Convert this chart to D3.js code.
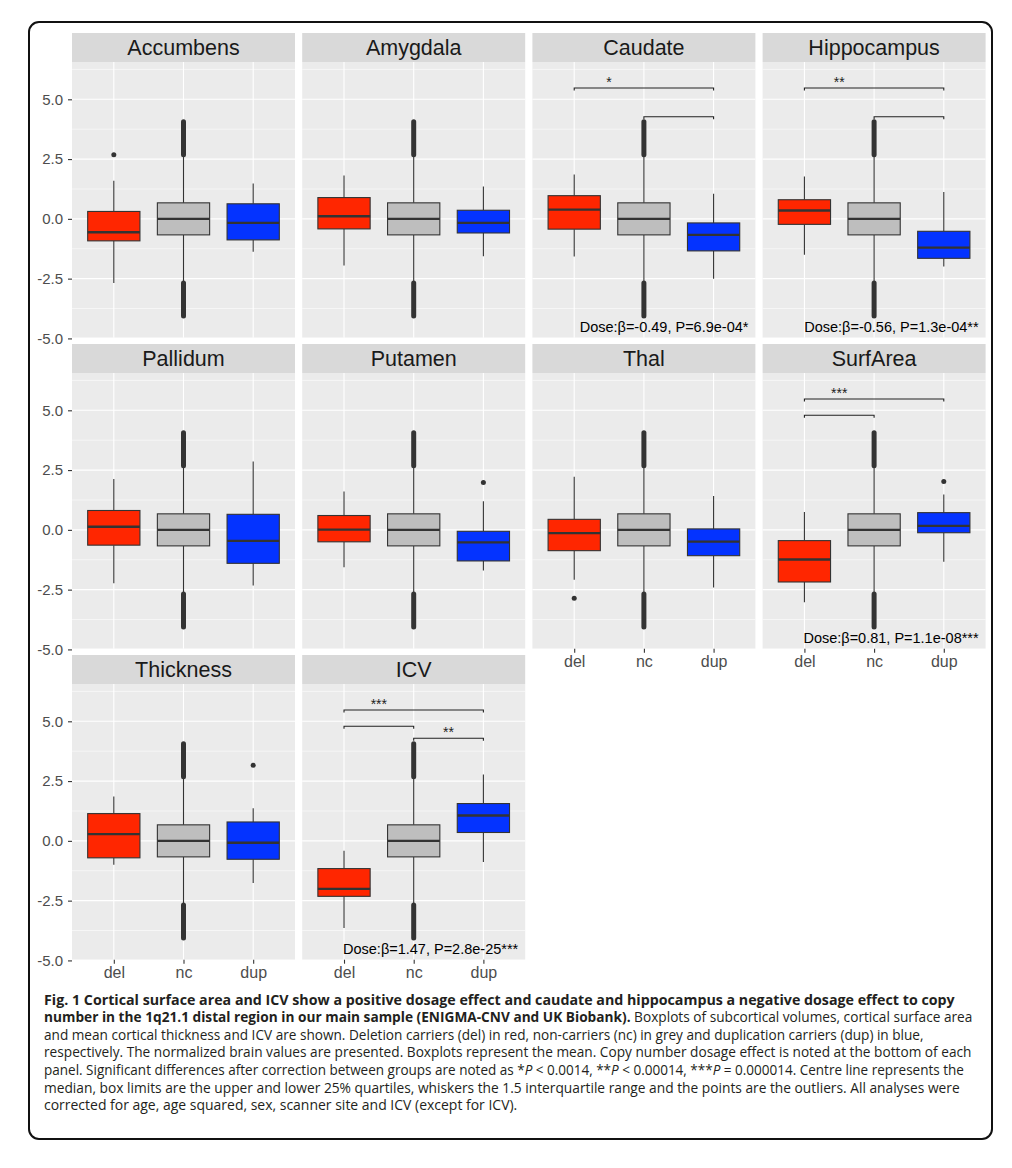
<!DOCTYPE html>
<html>
<head>
<meta charset="utf-8">
<script src="https://cdn.jsdelivr.net/npm/d3@7"></script>
<style>
  body { margin: 0; background: #fff; }
  svg { display: block; }
</style>
</head>
<body>
<svg id="chart"></svg>
<script>
// groups and panels
const groups = ["del", "nc", "dup"];
const regions = ["Accumbens", "Amygdala", "Caudate", "Hippocampus", "Pallidum",
                 "Putamen", "Thal", "SurfArea", "Thickness", "ICV"];

// [lower whisker, q1, median, q3, upper whisker], one row per region
const delStats = [
    [-2.68, -0.92, -0.56, 0.31, 1.59],
    [-1.95, -0.42, 0.11, 0.89, 1.81],
    [-1.57, -0.43, 0.39, 0.97, 1.85],
    [-1.50, -0.23, 0.35, 0.80, 1.77],
    [-2.23, -0.64, 0.13, 0.81, 2.13],
    [-1.56, -0.50, 0.01, 0.60, 1.60],
    [-2.09, -0.87, -0.14, 0.44, 2.22],
    [-3.03, -2.18, -1.24, -0.45, 0.75],
    [-1.00, -0.71, 0.28, 1.14, 1.85],
    [-3.64, -2.32, -2.01, -1.16, -0.41]
];
const ncStats = [-2.68, -0.67, 0.00, 0.67, 2.68];
const dupStats = [
    [-1.38, -0.88, -0.17, 0.63, 1.48],
    [-1.56, -0.59, -0.17, 0.36, 1.35],
    [-2.50, -1.34, -0.67, -0.17, 1.05],
    [-1.99, -1.65, -1.20, -0.52, 1.12],
    [-2.33, -1.40, -0.46, 0.65, 2.86],
    [-1.70, -1.30, -0.52, -0.06, 1.20],
    [-2.41, -1.08, -0.49, 0.04, 1.42],
    [-1.33, -0.12, 0.17, 0.72, 1.48],
    [-1.76, -0.77, -0.08, 0.79, 1.36],
    [-0.88, 0.35, 1.06, 1.56, 2.77]
];

// outliers
const delOutliers = [[2.68], [], [], [], [], [], [-2.86], [], [], []];
const dupOutliers = [[], [], [], [], [], [1.98], [], [2.02], [3.16], []];
// the non-carrier outliers are so dense they form solid runs
const ncOutlierRuns = [[2.68, 4.06], [-4.06, -2.68]];

const doseLabels = ["", "", "Dose:\u03b2=-0.49, P=6.9e-04*", "Dose:\u03b2=-0.56, P=1.3e-04**",
                    "", "", "", "Dose:\u03b2=0.81, P=1.1e-08***", "", "Dose:\u03b2=1.47, P=2.8e-25***"];

// significance brackets: region, from, to, height, label, label position (group index)
const brackets = [
    ["Caudate", "del", "dup", 5.47, "*", 1.5],
    ["Caudate", "nc", "dup", 4.27, "", 2.5],
    ["Hippocampus", "del", "dup", 5.47, "**", 1.5],
    ["Hippocampus", "nc", "dup", 4.27, "", 2.5],
    ["SurfArea", "del", "dup", 5.47, "***", 1.5],
    ["SurfArea", "del", "nc", 4.79, "", 1.5],
    ["ICV", "del", "dup", 5.47, "***", 1.5],
    ["ICV", "del", "nc", 4.79, "", 1.5],
    ["ICV", "nc", "dup", 4.29, "**", 2.5]
];

const yTicks = [-5, -2.5, 0, 2.5, 5];
const yMinor = [-3.75, -1.25, 1.25, 3.75, 6.25];

const fills = { del: "#ff2600", nc: "#bebebe", dup: "#0433ff" };

const width = 1012, height = 1168;
const left0 = 72, panelW = 223, gapX = 7.2;
const top0 = 33, stripH = 29, plotH = 275.7, rowStep = 311;
const chartFont = "'Liberation Sans', Arial, sans-serif";

let svg = d3.select("#chart").attr("width", width).attr("height", height);
svg.append("rect").attr("width", width).attr("height", height).attr("fill", "#fff");

// frame
svg.append("rect")
    .attr("x", 29).attr("y", 22)
    .attr("width", 963).attr("height", 1117)
    .attr("rx", 10).attr("ry", 10)
    .attr("fill", "none").attr("stroke", "#111").attr("stroke-width", 2);

let x = d3.scaleLinear().domain([0.4, 3.6]).range([0, panelW]);
let y = d3.scaleLinear().domain([-4.97, 6.56]).range([plotH, 0]);
let gx = function(g) { return x(groups.indexOf(g) + 1); };
let boxW = x(0.75) - x(0);

regions.forEach(function(region, i) {
    let col = i % 4, row = Math.floor(i / 4);
    let px = left0 + col * (panelW + gapX);
    let py = top0 + row * rowStep;

    let strip = svg.append("g").attr("transform", "translate(" + px + "," + py + ")");
    strip.append("rect").attr("width", panelW).attr("height", stripH).attr("fill", "#d9d9d9");
    strip.append("text")
        .attr("x", panelW / 2).attr("y", stripH / 2 + 7.5)
        .attr("text-anchor", "middle")
        .style("font-family", chartFont)
        .style("font-size", "21.5px")
        .attr("fill", "#1a1a1a")
        .text(region);

    let g = svg.append("g").attr("transform", "translate(" + px + "," + (py + stripH) + ")");
    g.append("rect").attr("width", panelW).attr("height", plotH).attr("fill", "#ebebeb");

    g.selectAll(".minor").data(yMinor).enter().append("line")
        .attr("x1", 0).attr("x2", panelW)
        .attr("y1", function(d) { return y(d); }).attr("y2", function(d) { return y(d); })
        .attr("stroke", "#fff").attr("stroke-width", 0.55);
    g.selectAll(".major").data(yTicks).enter().append("line")
        .attr("x1", 0).attr("x2", panelW)
        .attr("y1", function(d) { return y(d); }).attr("y2", function(d) { return y(d); })
        .attr("stroke", "#fff").attr("stroke-width", 1.1);
    g.selectAll(".vgrid").data(groups).enter().append("line")
        .attr("x1", gx).attr("x2", gx)
        .attr("y1", 0).attr("y2", plotH)
        .attr("stroke", "#fff").attr("stroke-width", 1.1);

    let stats = { del: delStats[i], nc: ncStats, dup: dupStats[i] };

    groups.forEach(function(grp) {
        let s = stats[grp];
        let cx = gx(grp);
        // whiskers
        g.append("line").attr("x1", cx).attr("x2", cx)
            .attr("y1", y(s[3])).attr("y2", y(s[4]))
            .attr("stroke", "#333").attr("stroke-width", 1.1);
        g.append("line").attr("x1", cx).attr("x2", cx)
            .attr("y1", y(s[1])).attr("y2", y(s[0]))
            .attr("stroke", "#333").attr("stroke-width", 1.1);
        g.append("rect")
            .attr("x", cx - boxW / 2).attr("y", y(s[3]))
            .attr("width", boxW).attr("height", y(s[1]) - y(s[3]))
            .attr("fill", fills[grp]).attr("stroke", "#333").attr("stroke-width", 1.1);
        g.append("line")
            .attr("x1", cx - boxW / 2).attr("x2", cx + boxW / 2)
            .attr("y1", y(s[2])).attr("y2", y(s[2]))
            .attr("stroke", "#333").attr("stroke-width", 2.3);
    });

    // outliers
    g.selectAll(".runs").data(ncOutlierRuns).enter().append("line")
        .attr("x1", gx("nc")).attr("x2", gx("nc"))
        .attr("y1", function(d) { return y(d[0]); }).attr("y2", function(d) { return y(d[1]); })
        .attr("stroke", "#333").attr("stroke-width", 5).attr("stroke-linecap", "round");
    g.selectAll(".odel").data(delOutliers[i]).enter().append("circle")
        .attr("cx", gx("del")).attr("cy", function(d) { return y(d); })
        .attr("r", 2.5).attr("fill", "#333");
    g.selectAll(".odup").data(dupOutliers[i]).enter().append("circle")
        .attr("cx", gx("dup")).attr("cy", function(d) { return y(d); })
        .attr("r", 2.5).attr("fill", "#333");

    // significance brackets
    brackets.filter(function(b) { return b[0] === region; }).forEach(function(b) {
        let x1 = gx(b[1]), x2 = gx(b[2]);
        g.append("path")
            .attr("d", "M" + x1 + "," + y(b[3] - 0.1) + "V" + y(b[3]) + "H" + x2 + "V" + y(b[3] - 0.1))
            .attr("fill", "none").attr("stroke", "#222").attr("stroke-width", 1.1);
        if (b[4] !== "") {
            g.append("text")
                .attr("x", x(b[5])).attr("y", y(b[3]) - 1.5)
                .attr("text-anchor", "middle")
                .style("font-family", chartFont)
                .style("font-size", "14px")
                .attr("fill", "#222")
                .text(b[4]);
        }
    });

    if (doseLabels[i] !== "") {
        g.append("text")
            .attr("x", x(3.5)).attr("y", y(-4.5))
            .attr("dy", "0.35em")
            .attr("text-anchor", "end")
            .style("font-family", chartFont)
            .style("font-size", "14.5px")
            .attr("fill", "#000")
            .text(doseLabels[i]);
    }

    if (col === 0) {
        let ya = g.append("g")
            .call(d3.axisLeft(y).tickValues(yTicks)
                .tickFormat(function(d) { return d.toFixed(1); })
                .tickSize(4).tickPadding(5));
        ya.select(".domain").remove();
        ya.selectAll("line").attr("stroke", "#333").attr("stroke-width", 1.1);
        ya.selectAll("text")
            .style("font-family", chartFont)
            .style("font-size", "15px")
            .attr("fill", "#4d4d4d");
    }

    if (row === 2 || (row === 1 && col >= 2)) {
        let xa = g.append("g")
            .attr("transform", "translate(0," + plotH + ")")
            .call(d3.axisBottom(x).tickValues([1, 2, 3]).tickFormat(function(d) { return groups[d - 1]; })
                .tickSize(4).tickPadding(3));
        xa.select(".domain").remove();
        xa.selectAll("line").attr("stroke", "#333").attr("stroke-width", 1.1);
        xa.selectAll("text")
            .style("font-family", chartFont)
            .style("font-size", "16px")
            .attr("fill", "#4d4d4d");
    }
});

// caption
const captionLines = [
    [["Fig. 1 Cortical surface area and ICV show a positive dosage effect and caudate and hippocampus a negative dosage effect to copy", "b"]],
    [["number in the 1q21.1 distal region in our main sample (ENIGMA-CNV and UK Biobank).", "b"],
     [" Boxplots of subcortical volumes, cortical surface area", "r"]],
    [["and mean cortical thickness and ICV are shown. Deletion carriers (del) in red, non-carriers (nc) in grey and duplication carriers (dup) in blue,", "r"]],
    [["respectively. The normalized brain values are presented. Boxplots represent the mean. Copy number dosage effect is noted at the bottom of each", "r"]],
    [["panel. Significant differences after correction between groups are noted as *", "r"], ["P", "i"], [" < 0.0014, **", "r"],
     ["P", "i"], [" < 0.00014, ***", "r"], ["P", "i"], [" = 0.000014. Centre line represents the", "r"]],
    [["median, box limits are the upper and lower 25% quartiles, whiskers the 1.5 interquartile range and the points are the outliers. All analyses were", "r"]],
    [["corrected for age, age squared, sex, scanner site and ICV (except for ICV).", "r"]]
];
// measured line widths in the reference, from x = 44
const captionWidths = [911, 929, 880, 928, 920, 917, 474];

let cap = svg.append("g").attr("fill", "#231f20")
    .style("font-family", "'Open Sans', 'Noto Sans', sans-serif");

captionLines.forEach(function(line, k) {
    let row = cap.append("g");
    let t = row.append("text")
        .attr("x", 0).attr("y", 0)
        .style("font-size", "14.3px");
    line.forEach(function(seg) {
        t.append("tspan")
            .style("font-weight", seg[1] === "b" ? "bold" : "normal")
            .style("font-style", seg[1] === "i" ? "italic" : "normal")
            .text(seg[0]);
    });
    // squeeze the line horizontally to the width it has in the reference
    let sx = captionWidths[k] / t.node().getComputedTextLength();
    row.attr("transform", "translate(44," + (1004.5 + k * 17.6) + ") scale(" + sx + ",1)");
});
</script>
</body>
</html>
